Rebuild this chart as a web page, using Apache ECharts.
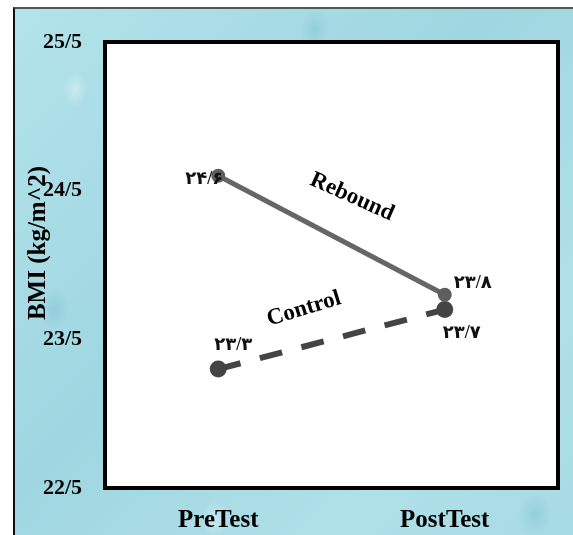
<!DOCTYPE html>
<html>
<head>
<meta charset="utf-8">
<script src="https://cdn.jsdelivr.net/npm/echarts@6/dist/echarts.min.js"></script>
<style>
  html, body { margin: 0; padding: 0; background: #ffffff; }
  #wrap { position: relative; width: 573px; height: 535px; overflow: hidden; background: #ffffff; }
  #frame {
    position: absolute; left: 13px; top: 7px; width: 600px; height: 600px;
    border-left: 2px solid #111; border-top: 2px solid #555;
    background:
      radial-gradient(ellipse 18px 26px at 60px 80px, rgba(255,255,255,0.35), rgba(255,255,255,0) 70%),
      radial-gradient(ellipse 22px 30px at 40px 300px, rgba(90,170,190,0.25), rgba(255,255,255,0) 70%),
      radial-gradient(ellipse 20px 28px at 300px 20px, rgba(90,170,190,0.25), rgba(255,255,255,0) 70%),
      radial-gradient(ellipse 24px 32px at 520px 505px, rgba(90,170,190,0.25), rgba(255,255,255,0) 70%),
      radial-gradient(ellipse 20px 26px at 200px 510px, rgba(255,255,255,0.35), rgba(255,255,255,0) 70%),
      linear-gradient(135deg, #b3e3ea 0%, #9fd6e1 40%, #b0e0e8 70%, #a2d8e2 100%);
  }
  #chart { position: absolute; left: 0; top: 0; width: 573px; height: 535px; }
</style>
</head>
<body>
<div id="wrap">
  <div id="frame"></div>
  <div id="chart"></div>
</div>
<script>
const categories = ['PreTest', 'PostTest'];
const reboundValues = [24.6, 23.8];
const controlValues = [23.3, 23.7];
const yTickValues = [22.5, 23.5, 24.5, 25.5];
const yAxisTitle = 'BMI (kg/m^2)';
const reboundName = 'Rebound';
const controlName = 'Control';

const persianDigits = ['۰','۱','۲','۳','۴','۵','۶','۷','۸','۹'];
function toPersian(v) {
  return String(v).replace('.', '/').replace(/[0-9]/g, d => persianDigits[+d]);
}

const serif = '"Liberation Serif", "Times New Roman", serif';
const labelFont = '"Liberation Serif", "DejaVu Sans", serif';

// label offsets (px) from each marker centre: [dx, dy]
const reboundLabelOffsets = [[-14, 4], [28, -11]];
const controlLabelOffsets = [[15, -24], [17, 24]];

function makeLayout(offsets) {
  return function (params) {
    const cx = params.rect.x + params.rect.width / 2;
    const cy = params.rect.y + params.rect.height / 2;
    const o = offsets[params.dataIndex];
    return { x: cx + o[0], y: cy + o[1], align: 'center', verticalAlign: 'middle' };
  };
}

const chart = echarts.init(document.getElementById('chart'), null, { renderer: 'canvas' });
chart.setOption({
  backgroundColor: 'transparent',
  animation: false,
  grid: {
    left: 105, right: 15, top: 42, bottom: 47,
    show: true, backgroundColor: '#ffffff', borderColor: '#000000', borderWidth: 4
  },
  xAxis: {
    type: 'category',
    data: categories,
    boundaryGap: true,
    axisLine: { show: false },
    axisTick: { show: false },
    splitLine: { show: false },
    axisLabel: {
      margin: 20,
      color: '#000',
      fontFamily: serif,
      fontWeight: 'bold',
      fontSize: 25
    }
  },
  yAxis: {
    type: 'value',
    min: 22.5,
    max: 25.5,
    axisLine: { show: false },
    axisTick: { show: false },
    splitLine: { show: false },
    axisLabel: {
      customValues: yTickValues,
      margin: 23,
      color: '#000',
      fontFamily: serif,
      fontWeight: 'bold',
      fontSize: 22,
      formatter: v => String(v).replace('.', '/')
    }
  },
  graphic: [
    {
      type: 'text', x: 39, y: 243, rotation: Math.PI / 2,
      style: { text: yAxisTitle, fill: '#000', font: 'bold 25px ' + serif, textAlign: 'center', textVerticalAlign: 'middle' }
    },
    {
      type: 'text', x: 352, y: 197, rotation: -24 * Math.PI / 180, z: 10,
      style: { text: reboundName, fill: '#000', font: 'bold 23px ' + serif, textAlign: 'center', textVerticalAlign: 'middle' }
    },
    {
      type: 'text', x: 304, y: 309, rotation: 17 * Math.PI / 180, z: 10,
      style: { text: controlName, fill: '#000', font: 'bold 23px ' + serif, textAlign: 'center', textVerticalAlign: 'middle' }
    }
  ],
  series: [
    {
      name: controlName,
      type: 'line',
      data: controlValues,
      symbol: 'circle',
      symbolSize: 17,
      itemStyle: { color: '#444444' },
      lineStyle: { color: '#444444', width: 6, type: [23, 20] },
      label: {
        show: true,
        fontFamily: labelFont,
        fontWeight: 'bold',
        fontSize: 18,
        color: '#111',
        formatter: p => toPersian(p.value)
      },
      labelLayout: makeLayout(controlLabelOffsets),
      z: 3
    },
    {
      name: reboundName,
      type: 'line',
      data: reboundValues,
      symbol: 'circle',
      symbolSize: 14,
      itemStyle: { color: '#5e5e5e' },
      lineStyle: { color: '#666666', width: 5 },
      label: {
        show: true,
        fontFamily: labelFont,
        fontWeight: 'bold',
        fontSize: 18,
        color: '#111',
        formatter: p => toPersian(p.value)
      },
      labelLayout: makeLayout(reboundLabelOffsets),
      z: 4
    }
  ]
});
</script>
</body>
</html>
